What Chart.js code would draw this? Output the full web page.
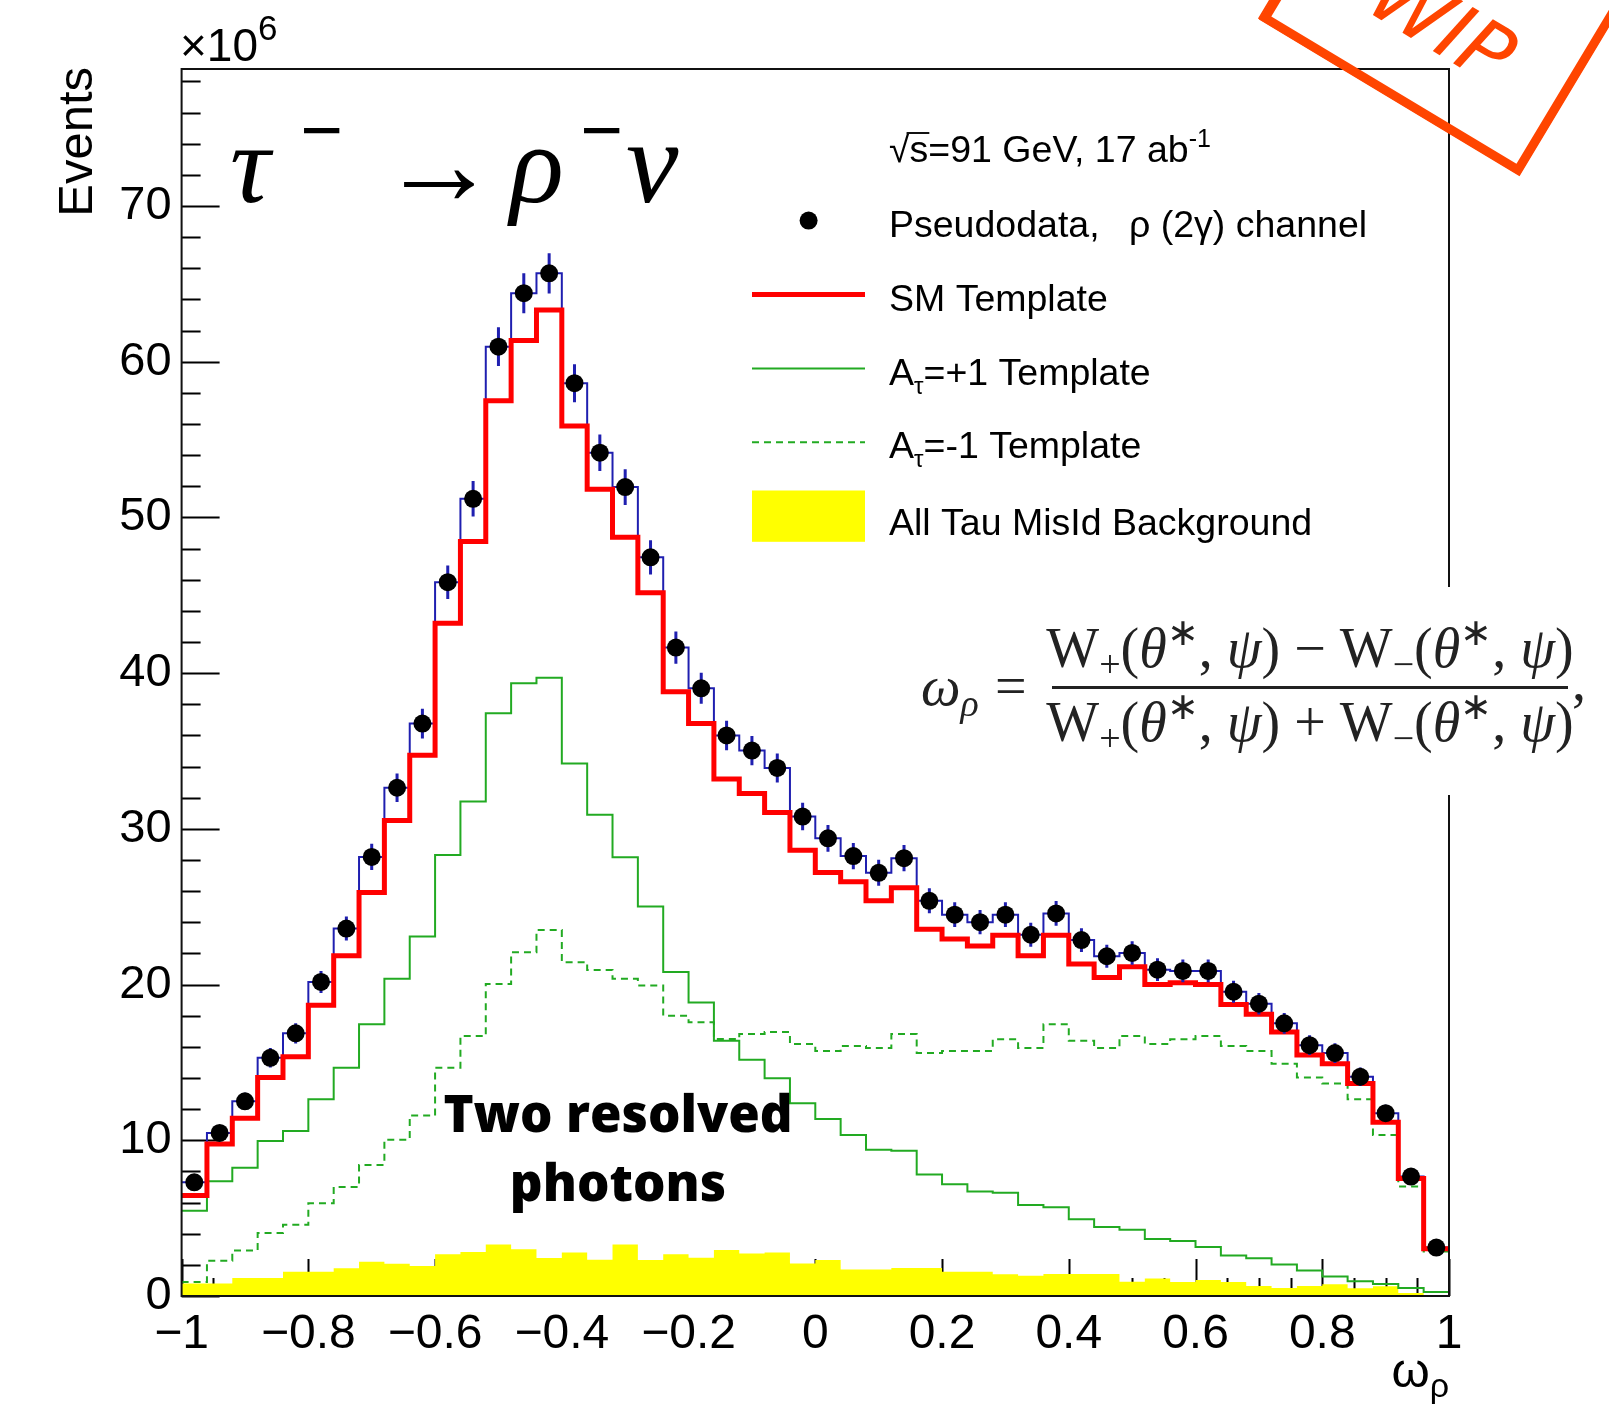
<!DOCTYPE html>
<html>
<head>
<meta charset="utf-8">
<script src="https://cdn.jsdelivr.net/npm/chart.js@4.4.1/dist/chart.umd.min.js"></script>
<style>
html,body{margin:0;padding:0;background:#fff;}
canvas{display:block;}
</style>
</head>
<body>
<canvas id="omegaChart" width="1609" height="1406"></canvas>
<script>
// bin edges of omega_rho (50 bins)
const binEdges = [-1,-0.96,-0.92,-0.88,-0.84,-0.8,-0.76,-0.72,-0.68,-0.64,-0.6,-0.56,-0.52,-0.48,-0.44,-0.4,-0.36,-0.32,-0.28,-0.24,-0.2,-0.16,-0.12,-0.08,-0.04,0,0.04,0.08,0.12,0.16,0.2,0.24,0.28,0.32,0.36,0.4,0.44,0.48,0.52,0.56,0.6,0.64,0.68,0.72,0.76,0.8,0.84,0.88,0.92,0.96,1]

// events, x10^6
const pseudodata = [7.3,10.47,12.5,15.3,16.87,20.17,23.6,28.2,32.64,36.76,45.84,51.2,60.97,64.4,65.68,58.62,54.16,51.95,47.44,41.64,39.03,36.0,35.03,33.91,30.79,29.39,28.25,27.18,28.12,25.38,24.49,24.01,24.49,23.2,24.57,22.86,21.82,22.03,20.96,20.88,20.88,19.54,18.77,17.51,16.11,15.6,14.08,11.74,7.67,3.11]
const pseudodataErr = [0.43,0.51,0.56,0.62,0.65,0.71,0.77,0.84,0.91,0.96,1.08,1.14,1.24,1.28,1.29,1.22,1.17,1.15,1.1,1.03,0.99,0.95,0.94,0.93,0.88,0.86,0.85,0.83,0.84,0.8,0.79,0.78,0.79,0.77,0.79,0.76,0.74,0.75,0.73,0.73,0.73,0.7,0.69,0.67,0.64,0.63,0.6,0.54,0.44,0.28]
const smTemplate = [6.46,9.76,11.41,14.03,15.37,18.67,21.85,25.91,30.53,34.72,43.2,48.45,57.5,61.36,63.33,55.88,51.81,48.73,45.17,38.81,36.76,33.2,32.27,31.05,28.63,27.19,26.6,25.38,26.22,23.55,22.92,22.48,23.17,21.85,23.17,21.32,20.45,21.14,20.0,20.12,20.0,18.72,18.09,16.95,15.47,14.91,13.65,11.16,7.55,3.03]
const plusTemplate = [5.47,7.37,8.23,9.96,10.6,12.63,14.66,17.45,20.37,23.09,28.32,31.75,37.42,39.35,39.71,34.2,30.9,28.17,25.02,20.81,18.85,16.39,15.17,13.98,12.38,11.36,10.34,9.4,9.33,7.8,7.17,6.71,6.63,5.84,5.7,4.93,4.43,4.25,3.66,3.53,3.15,2.6,2.42,2.02,1.63,1.25,0.94,0.77,0.51,0.26]
const minusTemplate = [0.9,2.27,2.93,4.05,4.58,5.95,7.0,8.42,10.04,11.59,14.66,16.69,20.04,22.07,23.5,21.44,20.93,20.37,19.94,18.0,17.58,16.51,16.82,16.95,16.18,15.73,16.06,15.93,16.82,15.6,15.73,15.73,16.49,15.93,17.45,16.39,15.93,16.69,16.18,16.49,16.69,16.06,15.73,14.91,14.03,13.65,12.63,10.34,7.04,2.85]
const misIdBackground = [0.8,0.8,1.15,1.15,1.55,1.55,1.78,2.2,2.07,1.93,2.68,2.82,3.3,3.0,2.44,2.8,2.33,3.3,2.32,2.68,2.46,2.95,2.73,2.8,2.08,2.32,1.7,1.7,1.8,1.8,1.55,1.55,1.4,1.3,1.42,1.42,1.42,0.92,1.13,0.9,1.02,0.9,0.65,0.52,0.64,0.76,0.5,0.62,0.2,0.05]

const xTicks = [-1,-0.8,-0.6,-0.4,-0.2,0,0.2,0.4,0.6,0.8,1]
const yTicks = [0,10,20,30,40,50,60,70]

const sans = "'Liberation Sans', Arial, sans-serif"
const serif = "'Liberation Serif', 'Times New Roman', serif"

// histogram outline: two points per bin
function histPoints(values){
  const pts = []
  values.forEach((v,i) => {
    pts.push({x: binEdges[i], y: v})
    pts.push({x: binEdges[i+1], y: v})
  })
  return pts
}

function binCenters(values){
  return values.map((v,i) => ({x: (binEdges[i] + binEdges[i+1]) / 2, y: v}))
}

function fmtTick(v){
  return v < 0 ? '\u2212' + Math.abs(v) : String(v)
}

// draw text pieces one after another: [text, font, dy]
function runsWidth(ctx, runs){
  let w = 0
  for (const r of runs){ ctx.font = r[1]; w += ctx.measureText(r[0]).width }
  return w
}
function drawRuns(ctx, x, y, runs){
  let cx = x
  for (const r of runs){
    ctx.font = r[1]
    ctx.fillText(r[0], cx, y + (r[2] || 0))
    cx += ctx.measureText(r[0]).width
  }
  return cx
}

const rootStyle = {
  id: 'rootStyle',
  beforeDatasetsDraw(chart){
    const ctx = chart.ctx, a = chart.chartArea
    const xs = chart.scales.x, ys = chart.scales.y
    ctx.save()
    ctx.strokeStyle = '#000'
    ctx.lineWidth = 2
    ctx.beginPath()
    for (let v = 0; v <= ys.max; v += 2){
      const y = Math.round(ys.getPixelForValue(v)) + 0.5
      const len = (v % 10 === 0) ? 38 : 19
      ctx.moveTo(a.left, y); ctx.lineTo(a.left + len, y)
    }
    for (let k = 0; k <= 40; k++){
      const v = -1 + k * 0.05
      const x = Math.round(xs.getPixelForValue(v)) + 0.5
      const len = (k % 4 === 0) ? 37 : 18
      ctx.moveTo(x, a.bottom); ctx.lineTo(x, a.bottom - len)
    }
    ctx.stroke()
    ctx.restore()
  },
  beforeDatasetDraw(chart, args){
    if (args.index !== 0) return
    const ctx = chart.ctx
    const xs = chart.scales.x, ys = chart.scales.y
    ctx.save()
    ctx.strokeStyle = '#1f1fb0'
    ctx.lineWidth = 3
    ctx.beginPath()
    pseudodata.forEach((v,i) => {
      const x = xs.getPixelForValue((binEdges[i] + binEdges[i+1]) / 2)
      ctx.moveTo(x, ys.getPixelForValue(v - pseudodataErr[i]))
      ctx.lineTo(x, ys.getPixelForValue(v + pseudodataErr[i]))
    })
    ctx.stroke()
    ctx.restore()
  },
  afterDraw(chart){
    const ctx = chart.ctx, a = chart.chartArea
    ctx.save()
    // frame
    ctx.strokeStyle = '#111'
    ctx.lineWidth = 2
    ctx.strokeRect(a.left, a.top, a.right - a.left, a.bottom - a.top)
    ctx.fillStyle = '#000'
    ctx.textBaseline = 'alphabetic'
    ctx.textAlign = 'left'

    // x10^6
    drawRuns(ctx, 180, 61, [['\u00d710', '46px ' + sans, 0], ['6', '35px ' + sans, -21]])

    // y title
    ctx.save()
    ctx.translate(92, 0)
    ctx.rotate(-Math.PI / 2)
    ctx.textAlign = 'right'
    ctx.font = '49px ' + sans
    ctx.fillText('Events', -67, 0)
    ctx.restore()

    // x title
    const xt = [['\u03c9', '49px ' + sans, 0], ['\u03c1', '34px ' + sans, 10]]
    drawRuns(ctx, a.right - runsWidth(ctx, xt), 1387, xt)

    // big decay label
    ctx.font = 'italic 112px ' + serif
    ctx.fillText('\u03c4', 230, 202)
    ctx.fillText('\u03c1', 510, 202)
    ctx.font = 'italic 118px ' + serif
    ctx.fillText('\u03bd', 626, 202)
    ctx.font = 'bold 76px ' + serif
    ctx.fillText('\u2212', 300, 156)
    ctx.fillText('\u2212', 580, 156)
    ctx.font = 'bold 118px ' + serif
    ctx.fillText('\u2192', 380, 204)

    // legend
    const lf = '37.5px ' + sans
    const lx = 889
    ctx.font = lf
    let cx = drawRuns(ctx, lx, 162, [['\u221a', lf, 0]])
    const sStart = cx
    cx = drawRuns(ctx, cx, 162, [['s', lf, 0]])
    ctx.beginPath(); ctx.lineWidth = 2
    ctx.moveTo(sStart - 3, 133); ctx.lineTo(cx + 1, 133); ctx.stroke()
    drawRuns(ctx, cx, 162, [['=91 GeV, 17 ab', lf, 0], ['-1', '25px ' + sans, -15]])

    ctx.beginPath(); ctx.arc(808.6, 220.6, 9, 0, Math.PI * 2); ctx.fill()
    drawRuns(ctx, lx, 237, [['Pseudodata,', lf, 0]])
    drawRuns(ctx, 1129, 237, [['\u03c1 (2\u03b3) channel', lf, 0]])

    ctx.lineWidth = 5; ctx.strokeStyle = '#ff0000'
    ctx.beginPath(); ctx.moveTo(752, 294.5); ctx.lineTo(865, 294.5); ctx.stroke()
    drawRuns(ctx, lx, 311, [['SM Template', lf, 0]])

    ctx.lineWidth = 2; ctx.strokeStyle = '#22aa22'
    ctx.beginPath(); ctx.moveTo(752, 368.4); ctx.lineTo(865, 368.4); ctx.stroke()
    drawRuns(ctx, lx, 385, [['A', lf, 0], ['\u03c4', '24px ' + sans, 9], ['=+1 Template', lf, 0]])

    ctx.setLineDash([7, 5])
    ctx.beginPath(); ctx.moveTo(752, 442.3); ctx.lineTo(865, 442.3); ctx.stroke()
    ctx.setLineDash([])
    drawRuns(ctx, lx, 458, [['A', lf, 0], ['\u03c4', '24px ' + sans, 9], ['=-1 Template', lf, 0]])

    ctx.fillStyle = '#ffff00'
    ctx.fillRect(752, 490.5, 113, 51.3)
    ctx.fillStyle = '#000'
    drawRuns(ctx, lx, 535, [['All Tau MisId Background', lf, 0]])

    // "Two resolved photons"
    ctx.textAlign = 'center'
    ctx.font = "800 56px 'Open Sans', " + sans
    let w = ctx.measureText('Two resolved').width
    const fs = 56 * 349 / w
    ctx.font = "800 " + fs.toFixed(1) + "px 'Open Sans', " + sans
    ctx.fillText('Two resolved', 618, 1132)
    ctx.fillText('photons', 618, 1201)
    ctx.textAlign = 'left'

    // formula box
    ctx.fillStyle = '#fff'
    ctx.fillRect(916, 587, 1609 - 916, 208)
    ctx.fillStyle = '#222'
    const F = 56, S = 38
    const up = F + 'px ' + serif, it = 'italic ' + F + 'px ' + serif, sm = S + 'px ' + serif
    const half = (sg) => [['W', up, 0], [sg, sm, 10], ['(', up, 0], ['\u03b8', it, 0], ['\u2217', sm, -22], [', ', up, 0], ['\u03c8', it, 0], [')', up, 0]]
    const num = [...half('+'), [' \u2212 ', up, 0], ...half('\u2212')]
    const den = [...half('+'), [' + ', up, 0], ...half('\u2212')]
    drawRuns(ctx, 1310 - runsWidth(ctx, num) / 2, 667, num)
    drawRuns(ctx, 1310 - runsWidth(ctx, den) / 2, 741, den)
    ctx.strokeStyle = '#222'; ctx.lineWidth = 3
    ctx.beginPath(); ctx.moveTo(1052, 687.5); ctx.lineTo(1568, 687.5); ctx.stroke()
    drawRuns(ctx, 921, 705, [['\u03c9', it, 0], ['\u03c1', 'italic ' + S + 'px ' + serif, 11]])
    drawRuns(ctx, 995, 705, [['=', up, 0]])
    drawRuns(ctx, 1572, 700, [[',', up, 0]])

    // WIP stamp
    ctx.save()
    ctx.translate(1518, 170)
    ctx.rotate(31 * Math.PI / 180)
    ctx.strokeStyle = '#ff4500'
    ctx.lineWidth = 9
    ctx.strokeRect(-295, -260, 295, 260)
    ctx.lineWidth = 2
    ctx.strokeRect(-300, -265, 303, 268)
    ctx.fillStyle = '#ff4500'
    ctx.textAlign = 'center'
    ctx.font = "italic 80px 'DejaVu Sans', " + sans
    ctx.fillText('WIP', -140, -58)
    ctx.restore()

    ctx.restore()
  }
}

new Chart(
  document.getElementById('omegaChart'),
  {
    type: 'line',
    data: {
      datasets: [
        {
          label: 'Pseudodata',
          data: binCenters(pseudodata),
          showLine: false,
          pointRadius: 9,
          pointBackgroundColor: '#000',
          pointBorderWidth: 0
        },
        {
          label: 'SM Template',
          data: histPoints(smTemplate),
          borderColor: '#ff0000',
          borderWidth: 5,
          borderJoinStyle: 'miter',
          pointRadius: 0
        },
        {
          label: 'Pseudodata hist',
          data: histPoints(pseudodata),
          borderColor: '#1f1fb0',
          borderWidth: 2,
          pointRadius: 0
        },
        {
          label: 'A+1 Template',
          data: histPoints(plusTemplate),
          borderColor: '#22aa22',
          borderWidth: 2,
          pointRadius: 0
        },
        {
          label: 'A-1 Template',
          data: histPoints(minusTemplate),
          borderColor: '#22aa22',
          borderWidth: 2,
          borderDash: [7, 5],
          pointRadius: 0
        },
        {
          label: 'All Tau MisId Background',
          data: histPoints(misIdBackground),
          borderWidth: 0,
          borderColor: 'rgba(0,0,0,0)',
          backgroundColor: '#ffff00',
          fill: 'origin',
          pointRadius: 0
        }
      ]
    },
    options: {
      responsive: false,
      animation: false,
      devicePixelRatio: 1,
      layout: { padding: { top: 69, right: 160, left: 0, bottom: 0 } },
      plugins: { legend: { display: false }, tooltip: { enabled: false } },
      scales: {
        x: {
          type: 'linear',
          min: -1,
          max: 1,
          afterBuildTicks: s => { s.ticks = xTicks.map(v => ({ value: v })) },
          afterFit: s => { s.height = 110 },
          grid: { display: false, drawTicks: false },
          border: { display: false },
          ticks: {
            autoSkip: false,
            maxRotation: 0,
            padding: 10,
            color: '#000',
            font: { family: sans, size: 48 },
            callback: v => fmtTick(v)
          }
        },
        y: {
          min: 0,
          max: 78.8,
          afterBuildTicks: s => { s.ticks = yTicks.map(v => ({ value: v })) },
          afterFit: s => { s.width = 181.6 },
          grid: { display: false, drawTicks: false },
          border: { display: false },
          ticks: {
            padding: 10,
            color: '#000',
            font: { family: sans, size: 47 },
            callback: v => String(v)
          }
        }
      }
    },
    plugins: [rootStyle]
  }
)
</script>
</body>
</html>
